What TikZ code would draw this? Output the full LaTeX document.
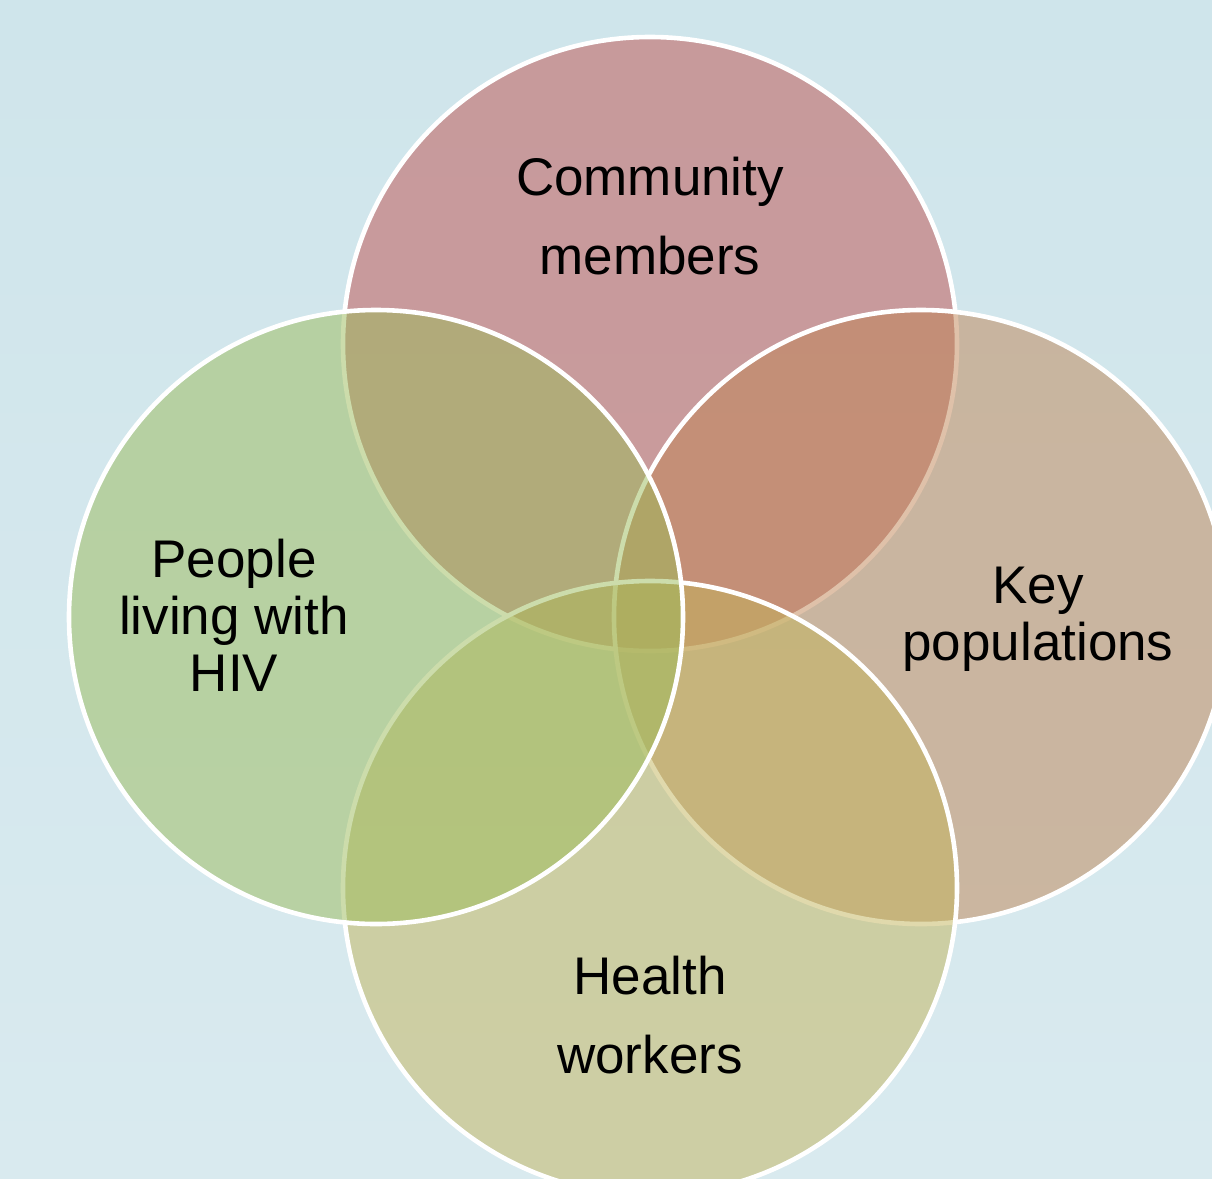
\documentclass[tikz,border=0pt]{standalone}
\usepackage{fontspec}
\setmainfont{Liberation Sans}
\usepackage{tikz}
\pgfdeclarelayer{bg}
\pgfsetlayers{bg,main}
\definecolor{skytop}{HTML}{CFE5EB}
\definecolor{skybot}{HTML}{D9EAEF}
\definecolor{rosefill}{HTML}{C0504D}
\definecolor{leaffill}{HTML}{9BBB59}
\definecolor{clayfill}{HTML}{C08454}
\definecolor{olivefill}{HTML}{C3B45A}
\tikzset{ring/.style={circle, draw=white, line width=2.3pt, inner sep=0pt, minimum size=307pt, fill opacity=0.5, draw opacity=1},
         lbl/.style={align=center, inner sep=0pt, font=\fontsize{26.5}{28.5}\selectfont},
         lblwide/.style={lbl, font=\fontsize{26.5}{39.5}\selectfont}}

\begin{document}
\begin{tikzpicture}[x=0.5pt, y=-0.5pt]
    \useasboundingbox (0,0) rectangle (1212,1179);
    \begin{pgfonlayer}{bg}
        \shade[top color=skytop, bottom color=skybot] (0,0) rectangle (1212,1179);
    \end{pgfonlayer}
    \clip (0,0) rectangle (1212,1179);

    \node (community) at (650, 344) [ring, fill=rosefill] {};
    \node (keypop) at (921, 617) [ring, fill=clayfill] {};
    \node (health) at (650, 888) [ring, fill=olivefill] {};
    \node (plhiv) at (376, 617) [ring, fill=leaffill] {};

    \node (communitytext) at (650, 216) [lblwide] {Community\\members};
    \node (keypoptext) at (1038, 619) [lbl] {Key\\populations};
    \node (healthtext) at (650, 1015) [lblwide] {Health\\workers};
    \node (plhivtext) at (234, 615) [lbl] {People\\living with\\HIV};
\end{tikzpicture}
\end{document}
